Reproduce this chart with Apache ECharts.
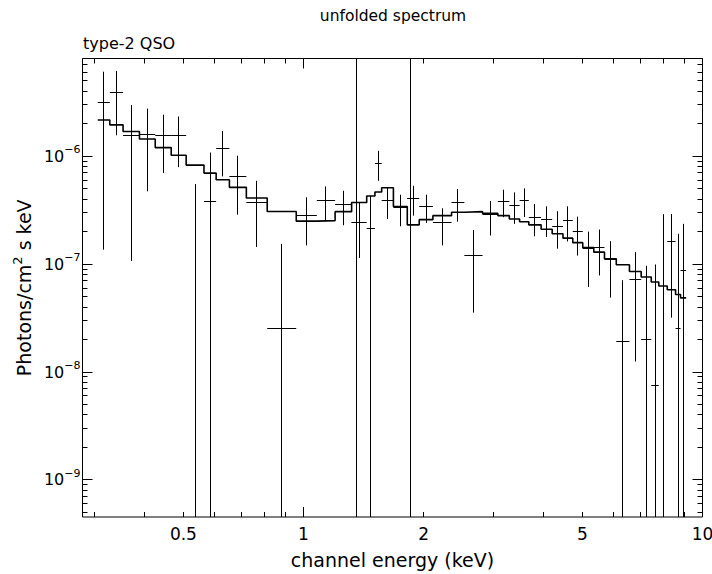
<!DOCTYPE html>
<html>
<head>
<meta charset="utf-8">
<title>unfolded spectrum</title>
<script src="https://cdn.jsdelivr.net/npm/echarts@6/dist/echarts.min.js"></script>
<style>
  html, body { margin: 0; padding: 0; background: #ffffff; }
  #chart { width: 712px; height: 574px; }
</style>
</head>
<body>
<div id="chart"></div>
<script>
// Channel bins (keV) of each unfolded data point
const binLo = [0.305, 0.327, 0.353, 0.388, 0.425, 0.466, 0.508, 0.563, 0.604, 0.652,
  0.719, 0.811, 0.959, 1.08, 1.20, 1.32, 1.32, 1.44, 1.51, 1.57,
  1.68, 1.82, 1.82, 1.95, 2.11, 2.35, 2.53, 2.81, 3.07, 3.28,
  3.48, 3.67, 3.94, 4.20, 4.47, 4.73, 5.01, 5.34, 5.68, 6.08,
  6.56, 7.02, 7.44, 7.77, 8.16, 8.56, 8.81];
const binHi = [0.327, 0.353, 0.388, 0.425, 0.466, 0.508, 0.563, 0.604, 0.652, 0.719,
  0.811, 0.959, 1.08, 1.20, 1.32, 1.44, 1.40, 1.51, 1.57, 1.68,
  1.82, 1.95, 1.89, 2.11, 2.35, 2.53, 2.81, 3.07, 3.28, 3.48,
  3.67, 3.94, 4.20, 4.47, 4.73, 5.01, 5.34, 5.68, 6.08, 6.56,
  7.02, 7.44, 7.77, 8.16, 8.56, 8.81, 9.10];

// Unfolded flux (photons/cm^2/s/keV) with lower and upper error bounds
const flux = [3.13e-6, 3.88e-6, 1.55e-6, 1.60e-6, 1.55e-6, 1.56e-6, 1e-10, 3.78e-7, 1.18e-6, 6.44e-7,
  3.72e-7, 2.53e-8, 2.81e-7, 3.87e-7, 3.57e-7, 2.44e-7, 2.44e-7, 2.12e-7, 8.62e-7, 3.87e-7,
  3.36e-7, 4.01e-7, 4.01e-7, 3.40e-7, 2.44e-7, 3.74e-7, 1.20e-7, 2.90e-7, 3.82e-7, 3.48e-7,
  3.88e-7, 2.68e-7, 2.59e-7, 2.24e-7, 2.53e-7, 1.99e-7, 1.39e-7, 1.44e-7, 1.10e-7, 1.92e-8,
  7.16e-8, 2.02e-8, 7.57e-9, 1e-10, 1.62e-7, 2.51e-8, 8.73e-8];
const fluxLow = [1.36e-7, 1.56e-6, 1.07e-7, 4.72e-7, 6.97e-7, 7.91e-7, 1e-11, 1e-11, 6.50e-7, 2.87e-7,
  1.44e-7, 1e-11, 1.49e-7, 2.51e-7, 2.29e-7, 1.14e-7, 1e-11, 1e-11, 5.91e-7, 2.62e-7,
  2.24e-7, 2.81e-7, 1e-11, 2.41e-7, 1.49e-7, 2.47e-7, 3.55e-8, 1.84e-7, 2.72e-7, 2.36e-7,
  2.73e-7, 1.81e-7, 1.78e-7, 1.39e-7, 1.62e-7, 1.20e-7, 6.13e-8, 7.85e-8, 4.89e-8, 1e-11,
  1.25e-8, 1e-11, 1e-11, 1e-11, 3.19e-8, 1e-11, 1e-11];
const fluxHigh = [6.06e-6, 6.16e-6, 2.98e-6, 2.76e-6, 2.42e-6, 2.33e-6, 5.51e-7, 1.08e-6, 1.71e-6, 1.01e-6,
  5.91e-7, 1.54e-7, 4.16e-7, 5.25e-7, 4.78e-7, 3.74e-7, 1e-4, 4.30e-7, 1.12e-6, 5.14e-7,
  4.39e-7, 5.32e-7, 1e-4, 4.39e-7, 3.29e-7, 4.96e-7, 2.07e-7, 3.84e-7, 4.89e-7, 4.62e-7,
  5.03e-7, 3.60e-7, 3.43e-7, 3.09e-7, 3.43e-7, 2.75e-7, 2.00e-7, 2.09e-7, 1.63e-7, 7.09e-8,
  1.29e-7, 9.65e-8, 9.92e-8, 2.90e-7, 2.91e-7, 1.91e-7, 2.36e-7];

// Folded model as a histogram: bin edges (keV) and model flux in each bin
const modelEdges = [0.305, 0.327, 0.353, 0.388, 0.425, 0.466, 0.508, 0.563, 0.604, 0.652,
  0.719, 0.811, 0.959, 1.08, 1.20, 1.32, 1.44, 1.51, 1.57, 1.68,
  1.82, 1.95, 2.11, 2.35, 2.53, 2.81, 3.07, 3.28, 3.48, 3.67,
  3.94, 4.20, 4.47, 4.73, 5.01, 5.34, 5.68, 6.08, 6.56, 7.02,
  7.44, 7.77, 8.16, 8.56, 8.81, 9.10];
const modelFlux = [2.16e-6, 1.95e-6, 1.69e-6, 1.44e-6, 1.20e-6, 1.02e-6, 8.26e-7, 6.97e-7, 6.04e-7, 5.14e-7,
  4.10e-7, 3.07e-7, 2.50e-7, 2.53e-7, 3.06e-7, 3.72e-7, 4.27e-7, 4.65e-7, 5.09e-7, 3.42e-7,
  2.31e-7, 2.58e-7, 2.81e-7, 3.02e-7, 3.06e-7, 2.95e-7, 2.81e-7, 2.62e-7, 2.47e-7, 2.31e-7,
  2.10e-7, 1.91e-7, 1.74e-7, 1.58e-7, 1.42e-7, 1.29e-7, 1.12e-7, 9.85e-8, 8.55e-8, 7.59e-8,
  6.82e-8, 6.27e-8, 5.79e-8, 5.23e-8, 4.86e-8];

// Axis ranges and tick marks
const xRange = [0.2793, 10];
const yRange = [4.54e-10, 8.03e-6];
const xLabelTicks = [0.5, 1, 2, 5, 10];
const xTickLabels = ['0.5', '1', '2', '5', '10'];
const xMajorTicks = [1, 10];
const xMinorTicks = [0.3, 0.4, 0.5, 0.6, 0.7, 0.8, 0.9, 2, 3, 4, 5, 6, 7, 8, 9];
const yMajorTicks = [1e-9, 1e-8, 1e-7, 1e-6];
const yMinorTicks = [];
for (let e = -10; e <= -6; e++) {
  for (let k = 2; k <= 9; k++) {
    const v = k * Math.pow(10, e);
    if (v > yRange[0] && v < yRange[1]) yMinorTicks.push(v);
  }
}

const FONT = '"DejaVu Sans", "Liberation Sans", sans-serif';
const INK = '#000000';
const MAJOR_LEN = 10;
const MINOR_LEN = 5;

const crisp = v => Math.round(v - 0.5) + 0.5;

function lineEl(x1, y1, x2, y2, width) {
  return {
    type: 'line',
    shape: { x1: x1, y1: y1, x2: x2, y2: y2 },
    style: { stroke: INK, lineWidth: width || 1 }
  };
}

// Data crosses: horizontal bar over the channel width, vertical bar over the error range
function renderErrorBar(params, api) {
  const cs = params.coordSys;
  const top = cs.y, bottom = cs.y + cs.height;
  const pLo = api.coord([api.value(0), api.value(2)]);
  const pHi = api.coord([api.value(1), api.value(2)]);
  const xc = crisp((pLo[0] + pHi[0]) / 2);
  const yUp = api.coord([api.value(0), api.value(4)])[1];
  const yDn = api.coord([api.value(0), api.value(3)])[1];
  const clampY = y => Math.max(top, Math.min(bottom, y));
  const children = [lineEl(xc, clampY(yUp), xc, clampY(yDn), 1)];
  const yc = pLo[1];
  if (yc >= top && yc <= bottom) {
    children.push(lineEl(pLo[0], crisp(yc), pHi[0], crisp(yc), 1));
  }
  return { type: 'group', children: children };
}

// Inward ticks on the bottom and top edges of the frame
function renderXTick(params, api) {
  const cs = params.coordSys;
  const x = crisp(api.coord([api.value(0), api.value(1)])[0]);
  const len = api.value(2);
  const b = cs.y + cs.height;
  return {
    type: 'group',
    children: [lineEl(x, b, x, b - len, 1), lineEl(x, cs.y, x, cs.y + len, 1)]
  };
}

// Inward ticks on the left and right edges of the frame
function renderYTick(params, api) {
  const cs = params.coordSys;
  const y = crisp(api.coord([api.value(0), api.value(1)])[1]);
  const len = api.value(2);
  const r = cs.x + cs.width;
  return {
    type: 'group',
    children: [lineEl(cs.x, y, cs.x + len, y, 1), lineEl(r, y, r - len, y, 1)]
  };
}

// Energy labels under the bottom edge
function renderXLabel(params, api) {
  const cs = params.coordSys;
  const x = api.coord([api.value(0), api.value(1)])[0];
  return {
    type: 'text',
    x: x,
    y: cs.y + cs.height + 17,
    style: {
      text: xTickLabels[params.dataIndex],
      fill: INK,
      fontSize: 17,
      fontFamily: FONT,
      align: 'center',
      verticalAlign: 'middle'
    }
  };
}

const points = binLo.map((lo, i) => [lo, binHi[i], flux[i], fluxLow[i], fluxHigh[i]]);
const modelLine = modelEdges.map((e, i) => [e, modelFlux[Math.min(i, modelFlux.length - 1)]]);
const xTickData = xMinorTicks.map(v => [v, yRange[0], MINOR_LEN])
  .concat(xMajorTicks.map(v => [v, yRange[0], MAJOR_LEN]));
const yTickData = yMinorTicks.map(v => [xRange[0], v, MINOR_LEN])
  .concat(yMajorTicks.map(v => [xRange[0], v, MAJOR_LEN]));
const xLabelData = xLabelTicks.map(v => [v, yRange[0]]);

const supMinus = n => String(n).replace('-', '\u2212');

const chart = echarts.init(document.getElementById('chart'), null, { renderer: 'svg' });
chart.setOption({
  animation: false,
  backgroundColor: '#ffffff',
  title: [
    {
      text: 'unfolded spectrum',
      left: 393,
      top: 8,
      padding: 0,
      textAlign: 'center',
      textStyle: { fontSize: 15.5, fontWeight: 'normal', fontFamily: FONT, color: INK }
    },
    {
      text: 'type-2 QSO',
      left: 83,
      top: 35,
      padding: 0,
      textStyle: { fontSize: 16, fontWeight: 'normal', fontFamily: FONT, color: INK }
    }
  ],
  grid: {
    left: 82.5,
    top: 58.5,
    width: 620,
    height: 460,
    show: true,
    borderColor: INK,
    borderWidth: 1,
    backgroundColor: 'transparent'
  },
  xAxis: {
    type: 'log',
    logBase: 10,
    min: xRange[0],
    max: xRange[1],
    name: 'channel energy (keV)',
    nameLocation: 'middle',
    nameGap: 33,
    nameTextStyle: { fontSize: 19, fontFamily: FONT, color: INK },
    axisLine: { show: false },
    axisTick: { show: false },
    axisLabel: { show: false },
    splitLine: { show: false }
  },
  yAxis: {
    type: 'log',
    logBase: 10,
    min: yRange[0],
    max: yRange[1],
    name: '{a|Photons/cm}{s|2}{a| s keV}',
    nameLocation: 'middle',
    nameRotate: 90,
    nameGap: 37,
    nameTextStyle: {
      rich: {
        a: { fontSize: 19, fontFamily: FONT, color: INK, lineHeight: 26 },
        s: { fontSize: 13, fontFamily: FONT, color: INK, lineHeight: 13, verticalAlign: 'top' }
      }
    },
    axisLine: { show: false },
    axisTick: { show: false },
    splitLine: { show: false },
    axisLabel: {
      show: true,
      margin: 2,
      showMinLabel: false,
      showMaxLabel: false,
      formatter: v => '{b|10}{s|' + supMinus(Math.round(Math.log10(v))) + '}',
      rich: {
        b: { fontSize: 16, fontFamily: FONT, color: INK, lineHeight: 24 },
        s: { fontSize: 11, fontFamily: FONT, color: INK, lineHeight: 12, verticalAlign: 'top' }
      }
    }
  },
  series: [
    {
      name: 'model',
      type: 'line',
      data: modelLine,
      step: 'end',
      symbol: 'none',
      silent: true,
      clip: true,
      lineStyle: { color: INK, width: 1.6 },
      z: 3
    },
    {
      name: 'data',
      type: 'custom',
      data: points,
      encode: { x: [0, 1], y: [2, 3, 4] },
      renderItem: renderErrorBar,
      silent: true,
      clip: true,
      z: 4
    },
    {
      name: 'xTicks',
      type: 'custom',
      data: xTickData,
      encode: { x: 0, y: 1 },
      renderItem: renderXTick,
      silent: true,
      clip: false,
      z: 5
    },
    {
      name: 'yTicks',
      type: 'custom',
      data: yTickData,
      encode: { x: 0, y: 1 },
      renderItem: renderYTick,
      silent: true,
      clip: false,
      z: 5
    },
    {
      name: 'xLabels',
      type: 'custom',
      data: xLabelData,
      encode: { x: 0, y: 1 },
      renderItem: renderXLabel,
      silent: true,
      clip: false,
      z: 5
    }
  ]
});
</script>
</body>
</html>
